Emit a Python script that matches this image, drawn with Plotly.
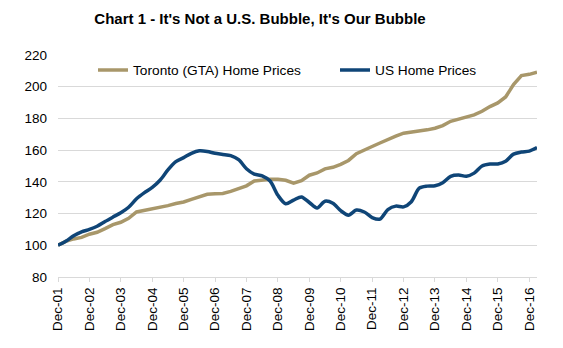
import plotly.graph_objects as go
import pandas as pd

# Quarterly observations, Dec-01 .. Mar-17
dates = pd.date_range("2001-12-01", "2017-03-01", freq="3MS")

toronto = [100, 102.5, 104, 105, 107, 108.2, 110.5, 113, 114.5, 117, 121, 122,
           122.8, 123.5, 125, 126.3, 127.3, 129, 130.8, 132.2, 132.5, 132.7, 134, 135.6,
           137.5, 140.5, 141.3, 141.6, 141.7, 141, 139.2, 140.8, 144.2, 145.6, 148.2, 149.2,
           151, 153.5, 157.8, 159.8, 162.3, 164.5, 166.8, 168.8, 170.7, 171.3, 172, 172.8,
           173.8, 175.5, 178.2, 179.5, 180.5, 182.2, 184.5, 187.5, 189.8, 193.5, 201.3, 207,
           207.8, 209.1]

us = [100, 102.5, 106, 108.5, 110, 112, 115, 117.8, 120.5, 124, 129.3, 133.2,
      136.5, 141, 147.5, 152.7, 155.3, 158, 159.6, 159.2, 158, 157.3, 156.5, 154,
      148.3, 144.9, 143.8, 140.5, 131.5, 126.2, 128.5, 130.5, 127, 123.5, 127.8, 126.5,
      121.8, 119, 122.2, 121, 117.5, 116.5, 122.5, 124.7, 124.2, 127.5, 136, 137.3,
      137.5, 139.4, 143.5, 144.3, 143.5, 145.5, 150, 151.2, 151.3, 153, 157.5, 158.8,
      159.4, 161.6]

tick_dates = pd.date_range("2001-12-01", "2016-12-01", freq="12MS")
tick_labels = ["Dec-%02d" % (y % 100) for y in range(2001, 2017)]

y_ticks = [80, 100, 120, 140, 160, 180, 200, 220]

GOLD = "#A8976A"
BLUE = "#0F4577"
FONT = "Liberation Sans, Arial, sans-serif"

L, R, T, B = 58, 26, 55, 71
W, H = 563, 348
PW, PH = W - L - R, H - T - B

fig = go.Figure()
fig.add_trace(go.Scatter(x=dates, y=toronto, mode="lines", name="Toronto (GTA) Home Prices",
                         line=dict(color=GOLD, width=3.5), legend="legend"))
fig.add_trace(go.Scatter(x=dates, y=us, mode="lines", name="US Home Prices",
                         line=dict(color=BLUE, width=3.5, shape="spline", smoothing=0.8),
                         legend="legend2"))

leg_y = (H - B - 70) / PH
fig.update_layout(
    width=W, height=H,
    margin=dict(l=L, r=R, t=T, b=B, autoexpand=False),
    paper_bgcolor="white", plot_bgcolor="white",
    font=dict(family=FONT, size=13, color="#000000"),
    title=dict(text="<b>Chart 1 - It's Not a U.S. Bubble, It's Our Bubble</b>",
               x=260 / W, xanchor="center", xref="container",
               y=1 - 19 / H, yanchor="middle", yref="container",
               font=dict(family=FONT, size=15, color="#000000")),
    legend=dict(orientation="h", x=(93 - L) / PW, y=leg_y,
                yanchor="middle", xanchor="left",
                bgcolor="rgba(0,0,0,0)", font=dict(size=13.7)),
    legend2=dict(orientation="h", x=(335 - L) / PW, y=leg_y,
                 yanchor="middle", xanchor="left",
                 bgcolor="rgba(0,0,0,0)", font=dict(size=13.7)),
    showlegend=True,
)

fig.update_xaxes(
    type="date",
    range=[dates[0], dates[-1]],
    tickmode="array", tickvals=tick_dates, ticktext=tick_labels,
    tickangle=-90, ticks="outside", ticklen=4, tickcolor="#D9D9D9",
    showline=True, linecolor="#D9D9D9", linewidth=1,
    showgrid=False, zeroline=False,
    tickfont=dict(family=FONT, size=13.5, color="#000000"),
)
fig.update_yaxes(
    range=[80, 220], tickmode="array", tickvals=y_ticks,
    showgrid=True, gridcolor="#D9D9D9", gridwidth=1,
    showline=False, zeroline=False, ticks="",
    ticklabelstandoff=10,
    tickfont=dict(family=FONT, size=13.5, color="#000000"),
)

fig.write_html("out.html")
